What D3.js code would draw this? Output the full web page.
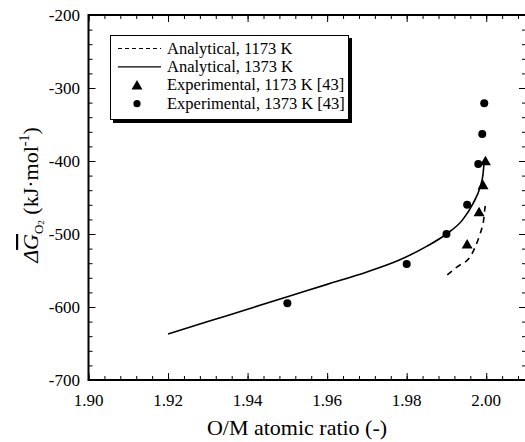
<!DOCTYPE html>
<html>
<head>
<meta charset="utf-8">
<script src="https://cdn.jsdelivr.net/npm/d3@7"></script>
<style>
  body { margin: 0; background: #fff; }
  svg { display: block; font-family: "Liberation Serif", "Times New Roman", serif; }
</style>
</head>
<body>
<svg id="chart" width="525" height="442"></svg>
<script>
// analytical curves
let analytic1373 = [
  [1.920, -637], [1.930, -620], [1.940, -603], [1.950, -586], [1.960, -569],
  [1.970, -552], [1.978, -536], [1.985, -517], [1.990, -500], [1.994, -481],
  [1.9967, -458], [1.9985, -435], [1.9992, -418], [1.9995, -399]
];
let analytic1173 = [
  [1.9902, -556], [1.9927, -545], [1.9960, -531], [1.9972, -518], [1.9982, -504],
  [1.9990, -490], [1.9993, -483], [1.9996, -468], [1.9998, -460]
];
// experimental points [43]
let exp1173 = [[1.9952, -514], [1.9982, -470], [1.9992, -433], [1.9998, -400]];
let exp1373 = [[1.950, -595], [1.980, -541], [1.990, -500], [1.9952, -460],
               [1.998, -404], [1.999, -363], [1.9995, -321]];

let xTicks = [1.90, 1.92, 1.94, 1.96, 1.98, 2.00];
let yTicks = [-200, -300, -400, -500, -600, -700];
let legendLabels = ["Analytical, 1173 K", "Analytical, 1373 K",
                    "Experimental, 1173 K [43]", "Experimental, 1373 K [43]"];

let svg = d3.select("#chart");
let pLeft = 88.5, pRight = 526, pTop = 15, pBottom = 380;

let x = d3.scaleLinear().domain([1.90, 2.01]).range([pLeft, pRight]);
let y = d3.scaleLinear().domain([-700, -200]).range([pBottom, pTop]);

// minor + major ticks, inward on all four sides
let g = svg.append("g");
let xMinor = d3.range(1.90, 2.0101, 0.004);
let yMinor = d3.range(-700, -199, 20);

g.append("g").attr("transform", "translate(0," + pBottom + ")")
  .call(d3.axisTop(x).tickValues(xMinor).tickSize(4).tickFormat(""));
g.append("g").attr("transform", "translate(0," + pBottom + ")")
  .call(d3.axisTop(x).tickValues(xTicks).tickSize(7).tickFormat(""));
g.append("g").attr("transform", "translate(0," + pTop + ")")
  .call(d3.axisBottom(x).tickValues(xMinor).tickSize(4).tickFormat(""));
g.append("g").attr("transform", "translate(0," + pTop + ")")
  .call(d3.axisBottom(x).tickValues(xTicks).tickSize(7).tickFormat(""));
g.append("g").attr("transform", "translate(" + pLeft + ",0)")
  .call(d3.axisRight(y).tickValues(yMinor).tickSize(4).tickFormat(""));
g.append("g").attr("transform", "translate(" + pLeft + ",0)")
  .call(d3.axisRight(y).tickValues(yTicks).tickSize(7).tickFormat(""));
g.append("g").attr("transform", "translate(" + pRight + ",0)")
  .call(d3.axisLeft(y).tickValues(yMinor).tickSize(4).tickFormat(""));
g.append("g").attr("transform", "translate(" + pRight + ",0)")
  .call(d3.axisLeft(y).tickValues(yTicks).tickSize(7).tickFormat(""));
g.selectAll(".domain").remove();
g.selectAll(".tick line").attr("stroke", "#000").attr("stroke-width", 1);

// tick labels
svg.append("g").selectAll("text").data(xTicks).join("text")
  .attr("x", d => x(d)).attr("y", 406)
  .attr("text-anchor", "middle").attr("font-size", 17)
  .text(d => d3.format(".2f")(d));
svg.append("g").selectAll("text").data(yTicks).join("text")
  .attr("x", 80).attr("y", d => y(d) + 6)
  .attr("text-anchor", "end").attr("font-size", 17)
  .text(d => d);

// frame
svg.append("rect")
  .attr("x", pLeft).attr("y", pTop)
  .attr("width", pRight - pLeft).attr("height", pBottom - pTop)
  .attr("fill", "none").attr("stroke", "#000").attr("stroke-width", 2);

// curves
let line = d3.line().x(d => x(d[0])).y(d => y(d[1])).curve(d3.curveMonotoneX);
svg.append("path").datum(analytic1373).attr("d", line)
  .attr("fill", "none").attr("stroke", "#000").attr("stroke-width", 1.6);
svg.append("path").datum(analytic1173).attr("d", line)
  .attr("fill", "none").attr("stroke", "#000").attr("stroke-width", 1.6)
  .attr("stroke-dasharray", "6,5");

// points
let tri = d3.symbol().type(d3.symbolTriangle).size(52);
svg.append("g").selectAll("path").data(exp1173).join("path")
  .attr("d", tri)
  .attr("transform", d => "translate(" + x(d[0]) + "," + (y(d[1]) + 1) + ")")
  .attr("fill", "#000");
svg.append("g").selectAll("circle").data(exp1373).join("circle")
  .attr("cx", d => x(d[0])).attr("cy", d => y(d[1])).attr("r", 4)
  .attr("fill", "#000");

// legend
let lg = svg.append("g");
let boxW = 238, boxH = 84;
lg.append("rect").attr("x", 113).attr("y", 38).attr("width", boxW + 1).attr("height", boxH + 1)
  .attr("fill", "#000");
lg.append("rect").attr("x", 110.5).attr("y", 35.5).attr("width", boxW).attr("height", boxH)
  .attr("fill", "#fff").attr("stroke", "#000").attr("stroke-width", 1);
let rowY = [48.5, 66.9, 85.3, 103.7];
lg.append("line").attr("x1", 118).attr("x2", 161).attr("y1", rowY[0]).attr("y2", rowY[0])
  .attr("stroke", "#000").attr("stroke-dasharray", "4,3");
lg.append("line").attr("x1", 118).attr("x2", 161).attr("y1", rowY[1]).attr("y2", rowY[1])
  .attr("stroke", "#000").attr("stroke-width", 1.2);
lg.append("path").attr("d", tri).attr("transform", "translate(137," + (rowY[2] + 1) + ")");
lg.append("circle").attr("cx", 137).attr("cy", rowY[3]).attr("r", 3.6);
lg.selectAll("text.lbl").data(legendLabels).join("text")
  .attr("class", "lbl")
  .attr("x", 167).attr("y", (d, i) => rowY[i] + 5)
  .attr("font-size", 16.5)
  .text(d => d);

// axis titles
svg.append("text")
  .attr("x", 297).attr("y", 435)
  .attr("text-anchor", "middle").attr("font-size", 22)
  .text("O/M atomic ratio (-)");

let yt = svg.append("text")
  .attr("transform", "translate(38,195) rotate(-90)")
  .attr("text-anchor", "middle").attr("font-size", 22);
yt.append("tspan").attr("font-style", "italic").text("Δ");
yt.append("tspan").attr("font-style", "italic")
  .style("text-decoration", "overline").text("G");
yt.append("tspan").attr("font-size", 13).attr("dy", 5).text("O");
yt.append("tspan").attr("font-size", 9).attr("dy", 1).text("2");
yt.append("tspan").attr("dy", -6).text(" (kJ·mol");
yt.append("tspan").attr("font-size", 14).attr("dy", -9).text("-1");
yt.append("tspan").attr("dy", 9).text(")");
</script>
</body>
</html>
